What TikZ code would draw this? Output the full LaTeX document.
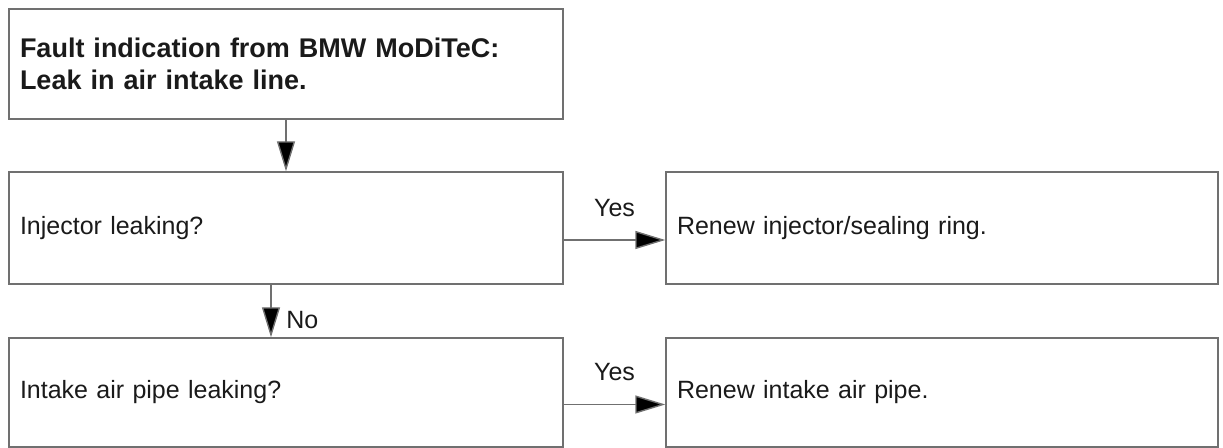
\documentclass[tikz,border=0pt]{standalone}
\usepackage{fontspec}
\setmainfont{Liberation Sans}
\usepackage{xcolor}
\usepackage{tikz}
\usetikzlibrary{arrows.meta, positioning}
\definecolor{linegray}{HTML}{707070}
\definecolor{inkcolor}{HTML}{1A1A1A}

\begin{document}
\begin{tikzpicture}[x=0.5pt, y=-0.5pt,
    stepbox/.style={rectangle, draw=linegray, line width=0.7pt, inner xsep=5.5pt, align=left, text=inkcolor, font=\fontsize{12.5}{15}\selectfont},
    flow/.style={draw=linegray, line width=0.7pt, -{Triangle[length=15pt, width=9pt, fill=black]}},
    answer/.style={font=\fontsize{12.5}{15}\selectfont, text=inkcolor}]
    \useasboundingbox (0,0) rectangle (1223,448);

    % Fault message (top)
    \node[stepbox, text width=266pt, minimum height=55pt, font=\fontsize{13.5}{16}\selectfont\bfseries] (fault) at (286,64)
        {Fault indication from BMW MoDiTeC:\\Leak in air intake line.};

    % Checks (left column)
    \node[stepbox, text width=266pt, minimum height=56pt] (injector) at (286,228) {Injector leaking?};
    \node[stepbox, text width=266pt, minimum height=54.5pt] (pipe) at (286,392.5) {Intake air pipe leaking?};

    % Remedies (right column)
    \node[stepbox, text width=265pt, minimum height=56pt] (renewinj) at (942,228) {Renew injector/sealing ring.};
    \node[stepbox, text width=265pt, minimum height=54.5pt] (renewpipe) at (942,392.5) {Renew intake air pipe.};

    % Connectors
    \draw[flow] (fault.south) -- (injector.north);
    \draw[flow] ([yshift=-6pt]injector.east) -- node[answer, above=8pt] {Yes} ([yshift=-6pt]renewinj.west);
    \draw[flow] ([xshift=-7.5pt]injector.south) -- node[answer, pos=0.68, right=4pt] {No} ([xshift=-7.5pt]pipe.north);
    \draw[flow] ([yshift=-6pt]pipe.east) -- node[answer, above=8pt] {Yes} ([yshift=-6pt]renewpipe.west);
\end{tikzpicture}
\end{document}
